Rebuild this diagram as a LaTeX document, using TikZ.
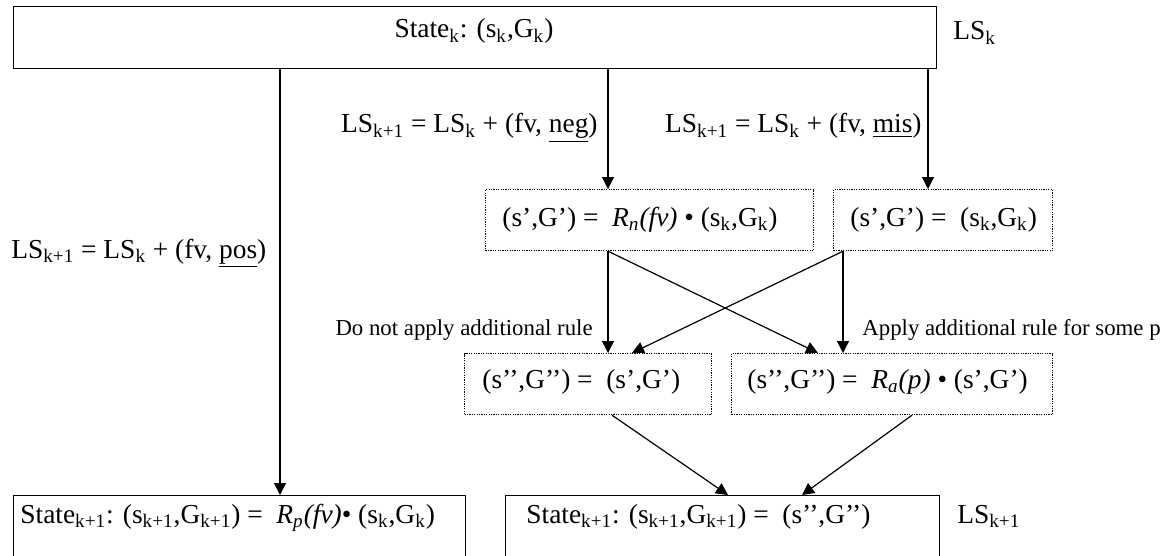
\documentclass[tikz,border=0pt]{standalone}
\usepackage{fontspec}
\setmainfont{Liberation Serif}
\usepackage{tikz}
\usetikzlibrary{arrows.meta}
\newcommand{\low}[1]{\textsubscript{#1}}
\tikzset{
  txt/.style={font=\fontsize{13.7pt}{16pt}\selectfont, inner sep=0pt},
  small/.style={font=\fontsize{11.4pt}{13pt}\selectfont, inner sep=0pt},
  statebox/.style={draw, line width=0.6pt, inner sep=0pt, anchor=north west},
  rulebox/.style={draw, line width=0.6pt, dash pattern=on 0.6pt off 0.6pt, inner sep=0pt, anchor=north west},
  arr/.style={-{Triangle[length=6pt,width=6pt]}, line width=0.6pt},
}

\begin{document}
\begin{tikzpicture}[x=0.5pt,y=-0.5pt]
  \useasboundingbox (0,0) rectangle (1166,556);

  % Tilstand k
  \node[statebox, minimum width=461.5pt, minimum height=31pt] (state) at (13,6) {};
  \node[txt, anchor=base] (statetxt) at (474,38) {State\low{k}: (s\low{k},G\low{k})};
  \node[txt, anchor=base west] (lsk) at (953,40) {LS\low{k}};

  % Regler for fv
  \node[rulebox, minimum width=164pt, minimum height=30.5pt] (rneg) at (485,189) {};
  \node[txt, anchor=base west] (rnegtxt) at (502,226) {(s’,G’) = \ \textit{R\low{n}(fv)} • (s\low{k},G\low{k})};
  \node[rulebox, minimum width=109.5pt, minimum height=30.5pt] (rmis) at (833,189) {};
  \node[txt, anchor=base west] (rmistxt) at (850,226) {(s’,G’) = \ (s\low{k},G\low{k})};

  % Ekstra regel
  \node[rulebox, minimum width=123.5pt, minimum height=30.5pt] (skeep) at (464,353) {};
  \node[txt, anchor=base west] (skeeptxt) at (482,388) {(s’’,G’’) = \ (s’,G’)};
  \node[rulebox, minimum width=160.5pt, minimum height=30.5pt] (rapp) at (731,353) {};
  \node[txt, anchor=base west] (rapptxt) at (747,388) {(s’’,G’’) = \ \textit{R\low{a}(p)} • (s’,G’)};

  % Tilstand k+1
  \node[statebox, minimum width=226pt, minimum height=40pt] (spos) at (13,495) {};
  \node[txt, anchor=base west] (spostxt) at (20,523) {State\low{k+1}: (s\low{k+1},G\low{k+1}) = \ \textit{R\low{p}(fv)}• (s\low{k},G\low{k})};
  \node[statebox, minimum width=217pt, minimum height=40pt] (snext) at (505,495) {};
  \node[txt, anchor=base west] (snexttxt) at (526,523) {State\low{k+1}: (s\low{k+1},G\low{k+1}) = \ (s’’,G’’)};
  \node[txt, anchor=base west] (lsnext) at (957,523) {LS\low{k+1}};

  % Etiketter
  \node[txt, anchor=base east] (lneg) at (598,133) {LS\low{k+1} = LS\low{k} + (fv, \underline{neg})};
  \node[txt, anchor=base east] (lmis) at (922,133) {LS\low{k+1} = LS\low{k} + (fv, \underline{mis})};
  \node[txt, anchor=base west] (lpos) at (11,258) {LS\low{k+1} = LS\low{k} + (fv, \underline{pos})};
  \node[small, anchor=base east] (lno) at (593,335) {Do not apply additional rule};
  \node[small, anchor=base west] (lyes) at (862,335) {Apply additional rule for some p};

  % Pile
  \draw[arr] (280,0 |- state.south) -- (280,0 |- spos.north);
  \draw[arr] (608,0 |- state.south) -- (608,0 |- rneg.north);
  \draw[arr] (928,0 |- state.south) -- (928,0 |- rmis.north);
  \draw[arr] (608,0 |- rneg.south) -- (608,0 |- skeep.north);
  \draw[arr] (608,0 |- rneg.south) -- (818,0 |- rapp.north);
  \draw[arr] (843,0 |- rmis.south) -- (632,0 |- skeep.north);
  \draw[arr] (843,0 |- rmis.south) -- (843,0 |- rapp.north);
  \draw[arr] (612,0 |- skeep.south) -- (728,0 |- snext.north);
  \draw[arr] (912,0 |- rapp.south) -- (802,0 |- snext.north);
\end{tikzpicture}
\end{document}
